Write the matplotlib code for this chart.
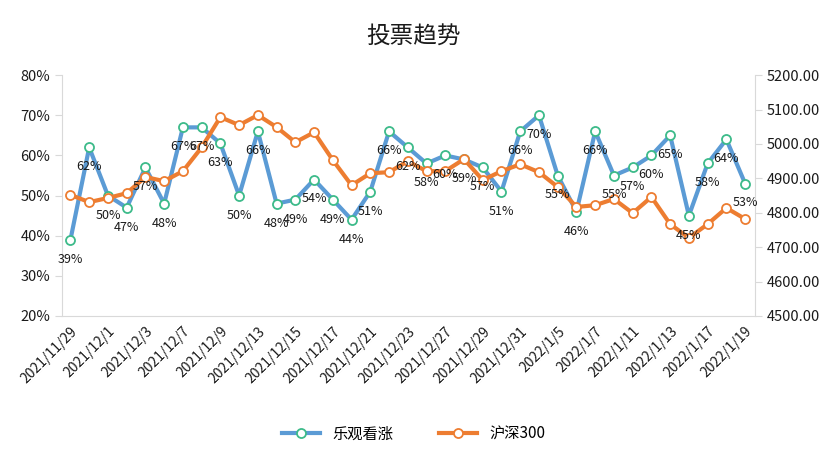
import matplotlib
matplotlib.use("Agg")
import matplotlib.pyplot as plt
from matplotlib.ticker import FuncFormatter

plt.rcParams['font.family'] = ['Noto Sans CJK SC', 'DejaVu Sans']

dates = ["2021/11/29", "2021/11/30", "2021/12/1", "2021/12/2", "2021/12/3", "2021/12/6",
         "2021/12/7", "2021/12/8", "2021/12/9", "2021/12/10", "2021/12/13", "2021/12/14",
         "2021/12/15", "2021/12/16", "2021/12/17", "2021/12/20", "2021/12/21", "2021/12/22",
         "2021/12/23", "2021/12/24", "2021/12/27", "2021/12/28", "2021/12/29", "2021/12/30",
         "2021/12/31", "2022/1/4", "2022/1/5", "2022/1/6", "2022/1/7", "2022/1/10",
         "2022/1/11", "2022/1/12", "2022/1/13", "2022/1/14", "2022/1/17", "2022/1/18",
         "2022/1/19"]
bullish = [39, 62, 50, 47, 57, 48, 67, 67, 63, 50, 66, 48, 49, 54, 49, 44, 51, 66, 62,
           58, 60, 59, 57, 51, 66, 70, 55, 46, 66, 55, 57, 60, 65, 45, 58, 64, 53]
hs300 = [4852, 4831, 4843, 4857, 4904, 4892, 4921, 4990, 5078, 5055, 5084, 5049, 5005,
         5034, 4953, 4880, 4915, 4918, 4950, 4921, 4921, 4956, 4895, 4921, 4941, 4918,
         4875, 4817, 4822, 4840, 4799, 4846, 4767, 4727, 4767, 4814, 4782]

blue = '#5b9bd5'
orange = '#ed7d31'
green = '#3dbb8a'
axis_gray = '#d9d9d9'
text_col = '#1a1a1a'

fig = plt.figure(figsize=(8.27, 4.73), dpi=100)
ax = fig.add_axes([0.075, 0.332, 0.838, 0.509])
ax2 = ax.twinx()

x = list(range(len(dates)))
ax.plot(x, bullish, color=blue, lw=3, marker='o', ms=6.5, mfc='white', mec=green,
        mew=1.3, label='乐观看涨', zorder=3)
ax2.plot(x, hs300, color=orange, lw=3, marker='o', ms=6.5, mfc='white', mec=orange,
         mew=1.3, label='沪深300', zorder=3)

# percentage labels under the blue points, drawn on the top axes so they sit above both lines
for i, v in enumerate(bullish):
    ax2.annotate(f"{v}%", xy=(i, v), xycoords=('data', ax.transData), xytext=(0, -14),
                 textcoords='offset points', ha='center', va='center', fontsize=9,
                 color=text_col, zorder=10)

ax.set_xlim(-0.45, len(dates) - 1 + 0.53)
ax.set_ylim(20, 80)
ax.set_yticks(range(20, 81, 10))
ax.yaxis.set_major_formatter(FuncFormatter(lambda v, p: f"{v:.0f}%"))
ax2.set_ylim(4500, 5200)
ax2.set_yticks(range(4500, 5201, 100))
ax2.yaxis.set_major_formatter(FuncFormatter(lambda v, p: f"{v:.2f}"))

ax.set_xticks(x[::2])
ax.set_xticklabels(dates[::2], rotation=45, ha='right', rotation_mode='anchor', fontsize=10)

for a in (ax, ax2):
    a.spines['top'].set_visible(False)
    for s in ('left', 'right', 'bottom'):
        a.spines[s].set_color(axis_gray)
    a.tick_params(axis='y', colors=axis_gray, labelcolor=text_col, labelsize=10.5, length=5)
ax.spines['right'].set_visible(False)
ax2.spines['left'].set_visible(False)
ax2.spines['bottom'].set_visible(False)
ax.tick_params(axis='x', length=0, pad=6, labelcolor=text_col)

fig.suptitle('投票趋势', y=0.945, fontsize=17, color=text_col)

h1, l1 = ax.get_legend_handles_labels()
h2, l2 = ax2.get_legend_handles_labels()
fig.legend(h1 + h2, l1 + l2, loc='center', bbox_to_anchor=(0.5, 0.082), ncol=2,
           frameon=False, fontsize=11, handlelength=2.5, columnspacing=3)

fig.savefig('out.png', dpi=100)
